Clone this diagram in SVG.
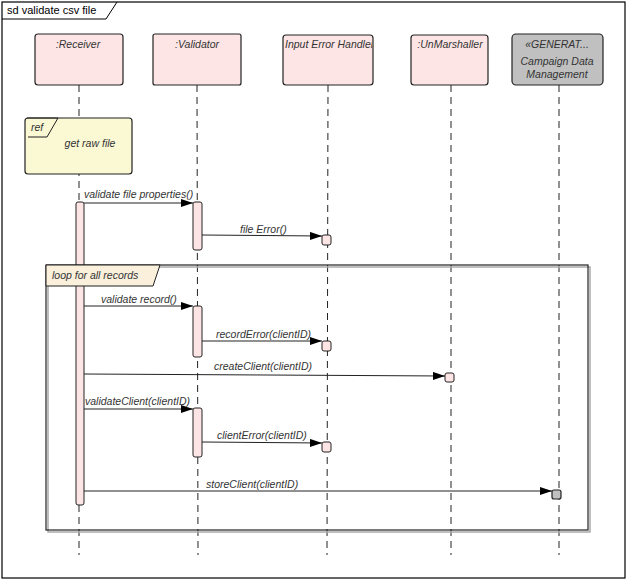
<svg xmlns="http://www.w3.org/2000/svg" width="627" height="581" viewBox="0 0 627 581">
<style>
.t{font-family:"Liberation Sans",Arial,sans-serif;font-size:10.5px;font-style:italic;fill:#333}
.head{fill:#fde5e5;stroke:#222;stroke-width:1.2}
.gray{fill:#c0c0c0;stroke:#222;stroke-width:1.2}
.life{stroke:#222;stroke-width:1;stroke-dasharray:7,5;fill:none}
.act{fill:#fde5e5;stroke:#222;stroke-width:1}
.msg{stroke:#222;stroke-width:1;fill:none;marker-end:url(#ah)}
</style>
<defs>
<marker id="ah" viewBox="0 0 12 8" refX="12" refY="4" markerWidth="12" markerHeight="8" markerUnits="userSpaceOnUse" orient="auto">
<path d="M0,0 L12,4 L0,8 Z" fill="#000"/>
</marker>
</defs>
<rect x="0" y="0" width="627" height="581" fill="#fff"/>
<g id="frame">
<rect x="2" y="2" width="623" height="576" fill="none" stroke="#000" stroke-width="1.2"/>
<polyline points="2,19 106,19 117,2" fill="none" stroke="#000" stroke-width="1"/>
<text x="7" y="14" style="font-family:'Liberation Sans',Arial,sans-serif;font-size:11px;fill:#000">sd validate csv file</text>
</g>
<g id="lifelines">
<line class="life" x1="79" y1="85" x2="79" y2="555"/>
<line class="life" x1="197" y1="85" x2="198" y2="555"/>
<line class="life" x1="328" y1="85" x2="327" y2="555"/>
<line class="life" x1="451" y1="85" x2="451" y2="555"/>
<line class="life" x1="559" y1="85" x2="559" y2="555"/>
</g>
<g id="receiver">
<rect class="head" x="35" y="34" width="88" height="51" rx="3"/>
<text class="t" x="78" y="48" text-anchor="middle">:Receiver</text>
</g>
<g id="validator">
<rect class="head" x="153" y="34" width="88" height="51" rx="2"/>
<text class="t" x="197" y="48" text-anchor="middle">:Validator</text>
</g>
<g id="inputErrorHandler">
<rect class="head" x="283" y="35" width="90" height="50" rx="3"/>
<svg x="283" y="35" width="89" height="50"><text class="t" x="2" y="13">Input Error Handler</text></svg>
</g>
<g id="unmarshaller">
<rect class="head" x="411" y="35" width="77" height="50" rx="3"/>
<text class="t" x="450" y="48" text-anchor="middle">:UnMarshaller</text>
</g>
<g id="campaignDataManagement">
<rect class="gray" x="512" y="34" width="91" height="51" rx="4"/>
<text class="t" x="557" y="48" text-anchor="middle">«GENERAT...</text>
<text class="t" x="557" y="65" text-anchor="middle">Campaign Data</text>
<text class="t" x="557" y="78" text-anchor="middle">Management</text>
</g>
<g id="ref">
<rect x="25" y="118" width="107" height="56" rx="3" fill="#fbf8d4" stroke="#222" stroke-width="1.2"/>
<polyline points="27,118 58,118 47,137 28,137" fill="none" stroke="#222" stroke-width="1"/>
<text class="t" x="31" y="131">ref</text>
<text class="t" x="90" y="147" text-anchor="middle">get raw file</text>
</g>
<g id="activations">
<rect class="act" x="76" y="202" width="8" height="303" rx="2"/>
<rect class="act" x="193" y="202" width="9" height="48" rx="2"/>
<rect class="act" x="193" y="306" width="9" height="51" rx="2"/>
<rect class="act" x="193" y="408" width="9" height="49" rx="2"/>
<rect class="act" x="322" y="235" width="9" height="10" rx="2"/>
<rect class="act" x="322" y="341" width="9" height="10" rx="2"/>
<rect class="act" x="322" y="442" width="9" height="10" rx="2"/>
<rect class="act" x="445" y="373" width="9" height="9" rx="2"/>
<rect class="gray" x="552" y="490" width="9" height="9" rx="2"/>
</g>
<g id="loop">
<rect x="48" y="267" width="542" height="265" fill="none" stroke="#aaa" stroke-width="1.5"/>
<rect x="46" y="265" width="542" height="265" fill="none" stroke="#222" stroke-width="1.2"/>
<path d="M46,265 L160,265 L153,286 L46,286 Z" fill="#faf0dc" stroke="#222" stroke-width="1"/>
<text class="t" x="52" y="279">loop for all records</text>
</g>
<g id="connectors">
<line class="msg" x1="84" y1="203" x2="193" y2="203"/>
<text class="t" x="84" y="198">validate file properties()</text>
<line class="msg" x1="202" y1="235" x2="322" y2="236"/>
<text class="t" x="240" y="233">file Error()</text>
<line class="msg" x1="84" y1="306" x2="193" y2="306"/>
<text class="t" x="101" y="303">validate record()</text>
<line class="msg" x1="202" y1="341" x2="322" y2="341"/>
<text class="t" x="216" y="338">recordError(clientID)</text>
<line class="msg" x1="84" y1="374" x2="445" y2="376"/>
<text class="t" x="214" y="370">createClient(clientID)</text>
<line class="msg" x1="84" y1="409" x2="193" y2="409"/>
<text class="t" x="85" y="405">validateClient(clientID)</text>
<line class="msg" x1="202" y1="442" x2="322" y2="443"/>
<text class="t" x="217" y="439">clientError(clientID)</text>
<line class="msg" x1="84" y1="491" x2="552" y2="491"/>
<text class="t" x="206" y="488">storeClient(clientID)</text>
</g>
</svg>
